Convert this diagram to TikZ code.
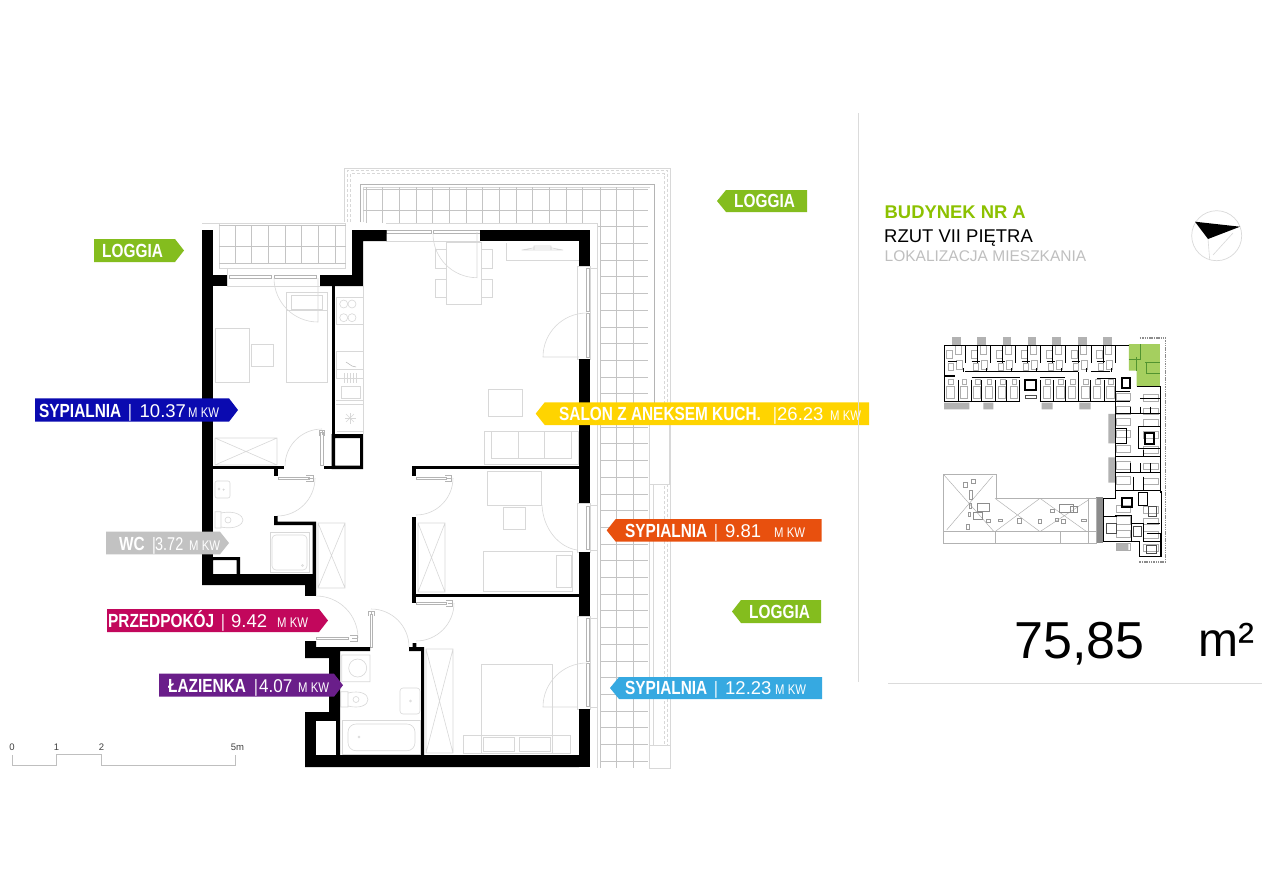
\documentclass[tikz,border=0pt]{standalone}
\usepackage{fontspec}
\setmainfont{Liberation Sans}
\newfontfamily\narrowfont[FakeStretch=0.81]{Liberation Sans}
\newfontfamily\plainfont{Liberation Sans}
\usetikzlibrary{calc}
\definecolor{cgreen}{HTML}{84BD1E}
\definecolor{cblue}{HTML}{0A0AB0}
\definecolor{cgray}{HTML}{C2C2C2}
\definecolor{cmag}{HTML}{C2075C}
\definecolor{cpurple}{HTML}{6A1E8A}
\definecolor{cyellow}{HTML}{FFD400}
\definecolor{corange}{HTML}{E8500E}
\definecolor{csky}{HTML}{36A9E1}
\definecolor{fline}{HTML}{D8D8D8}
\definecolor{tline}{HTML}{C4C4C4}
\definecolor{dline}{HTML}{B4B4B4}
\definecolor{kgreen}{HTML}{A5CF5F}
\definecolor{htitle}{HTML}{8CC100}
\tikzset{
  furn/.style={draw=fline,line width=0.6pt},
  tile/.style={draw=tline,line width=0.55pt},
  wall/.style={fill=black,draw=none},
  strip/.style={draw=fline,line width=0.6pt},
  dashy/.style={draw=fline,line width=0.6pt,dash pattern=on 3pt off 2pt},
  win/.style={draw=dline,line width=0.5pt,fill=white},
  labeltext/.style={anchor=base west,inner sep=0pt,text=white,font=\narrowfont},
  headtext/.style={anchor=base west,inner sep=0pt},
  scaletext/.style={anchor=base,inner sep=0pt,font=\fontsize{9.5}{10}\selectfont,text=black!75},
  kwall/.style={draw=black,line width=0.9pt},
  kthin/.style={draw=black!70,line width=0.45pt},
  kfaint/.style={draw=black!32,line width=0.45pt},
  kroof/.style={draw=black!30,line width=0.5pt},
  kbal/.style={fill=black!30,draw=none}
}
\newcommand{\tagright}[6]{\fill[#6] (#2,#4) -- (#3-9,#4) -- (#3,#4/2+#5/2) -- (#3-9,#5) -- (#2,#5) -- cycle;}
\newcommand{\tagleft}[6]{\fill[#6] (#3,#4) -- (#2+9,#4) -- (#2,#4/2+#5/2) -- (#2+9,#5) -- (#3,#5) -- cycle;}
\newcommand{\roomtext}[8]{\node[labeltext] (#1) at (#2,#3) {\fontsize{19}{19}\selectfont
  \rlap{\bfseries #4}\hspace*{#5pt}\rlap{\fontsize{18}{18}\selectfont|}\hspace*{-#5pt}\hspace*{#7pt}\rlap{\plainfont\fontsize{18.5}{18}\selectfont #6}\hspace*{-#7pt}\hspace*{#8pt}{\fontsize{14}{14}\selectfont M KW}};}
\begin{document}
\begin{tikzpicture}[x=1pt,y=-1pt]
\useasboundingbox[fill=white] (0,0) rectangle (1280,894);

% ---------- terrace outline
\draw[strip] (344,222) -- (344,168) -- (670,168) -- (670,768);
\draw[dashy] (347,222) -- (347,170.5) -- (667.5,170.5) -- (667.5,768);
\draw[dashy] (350.5,222) -- (350.5,173.5) -- (664.5,173.5) -- (664.5,768);
\draw[draw=dline,line width=0.6pt] (360,222) -- (360,184) -- (654,184) -- (654,414);
\draw[strip] (363,222) -- (363,187) -- (650,187);
\draw[strip] (649,484) -- (649,745) (653.5,484) -- (653.5,745);
\draw[strip,fill=white] (649,414) rectangle (669,484);
\draw[strip,fill=white] (649,745) rectangle (670,768);
% terrace tiles
\foreach \k in {0,...,13} \draw[tile] ({366+16.67*\k},187) -- ({366+16.67*\k},223);
\foreach \px in {600,616.7,633.3} \draw[tile] (\px,187) -- (\px,768);
\draw[tile] (363,189) -- (648,189) (363,210) -- (648,210) (597,226) -- (648,226);
\foreach \k in {0,...,31} \draw[tile] (600,{243.3+16.7*\k}) -- (648,{243.3+16.7*\k});
\draw[strip] (386,223) -- (597,223) -- (597,768);
% left loggia
\draw[strip] (202,223) -- (345.7,223) (219,223) rectangle (345.7,268);
\foreach \px in {235,251.7,268,285,301.7,318,335} \draw[tile] (\px,225) -- (\px,263);
\draw[tile] (219,225) -- (345.7,225) (219,246.7) -- (345.7,246.7) (219,263) -- (345.7,263);

% ---------- windows
\draw[strip] (227,268) -- (227,286.7) -- (320,286.7);
\draw[win] (229,275) rectangle (271,278) (274,275) rectangle (316,278);
\draw[strip] (386,241.7) -- (480,241.7);
\draw[win] (386,230.5) rectangle (431,233.5) (433,230.5) rectangle (480,233.5);
\draw[strip] (577,266) rectangle (590,359) (590,268) -- (597,268);
\draw[win] (586,268) rectangle (589,311) (586,313) rectangle (589,357);
\draw[strip] (577,503) rectangle (590,552) (590,505) -- (597,505) (590,550) -- (597,550);
\draw[win] (586,506) rectangle (589,549);
\draw[strip] (577,616) rectangle (590,709) (590,618) -- (597,618) (590,707) -- (597,707);
\draw[win] (586,618) rectangle (589,661) (586,663) rectangle (589,706);

% ---------- doors
\draw[furn] (318,278) -- (318,322) arc[start angle=90,end angle=180,radius=44];
\draw[furn] (477,232) -- (477,277.7) arc[start angle=90,end angle=180,radius=44];
\draw[furn] (579,357) -- (543,357) arc[start angle=180,end angle=270,radius=44];
\draw[furn] (578,707) -- (543,707) arc[start angle=180,end angle=270,radius=44];
\draw[furn] (542,505) .. controls (543,528) and (558,547) .. (577,550);
\draw[furn] (285,466) arc[start angle=180,end angle=270,radius=37];
\draw[win] (320.5,432) rectangle (323,465);
\draw[dline,line width=0.6pt] (319,436) -- (319,430) -- (324.5,430) -- (324.5,436) (322,430) -- (322,435);
\draw[furn] (315,478) arc[start angle=0,end angle=90,radius=38];
\draw[win] (278,477) rectangle (309,479.5);
\draw[dline,line width=0.6pt] (306,475) -- (313,475) -- (313,481) -- (306,481) (313,478) -- (308,478);
\draw[furn] (453,478) arc[start angle=0,end angle=90,radius=37];
\draw[win] (416,477) rectangle (446,479.5);
\draw[dline,line width=0.6pt] (445,475) -- (451,475) -- (451,481) -- (445,481) (451,478) -- (447,478);
\draw[furn] (454,603) arc[start angle=0,end angle=90,radius=38];
\draw[win] (416,602) rectangle (446,604.5);
\draw[dline,line width=0.6pt] (446,600) -- (452,600) -- (452,606) -- (446,606) (452,603) -- (448,603);
\draw[furn] (371,609) arc[start angle=270,end angle=360,radius=38];
\draw[win] (370,614) rectangle (372.5,647);
\draw[dline,line width=0.6pt] (368,616) -- (368,611) -- (374,611) -- (374,616) (371,611) -- (371,615);
\draw[furn] (316,596) arc[start angle=270,end angle=360,radius=42];
\draw[win] (316,637) rectangle (348,639.5);
\draw[dline,line width=0.6pt] (350,635) -- (357,635) -- (357,641) -- (350,641) (357,638) -- (352,638);

% ---------- bedroom 1 furniture
\draw[furn] (286.7,292.7) rectangle (327,382) (291,295) rectangle (322.7,309) (286.7,310) -- (327,310);
\draw[furn] (215,328) rectangle (249,382) (251,344) rectangle (273.3,366.7);
\draw[furn] (215,438) rectangle (277,465) (215,438) -- (277,465) (215,465) -- (277,438);
% kitchen
\draw[furn] (363.3,286) -- (363.3,434) (336,297) rectangle (363.3,324);
\foreach \cx/\cy in {343.7/304,352/304,343.7/317.7,352/317.7} \draw[furn] (\cx,\cy) circle[radius=4];
\draw[furn] (336,351) rectangle (363.3,378) (336,369) -- (363.3,369) (336,400) -- (363.3,400) (336,404) -- (363.3,404) (336.7,431.7) -- (363,431.7);
\draw[furn] (341,386) rectangle (360,398);
\foreach \px in {344,347,350,353,356} \draw[furn] (\px,373) -- (\px,383);
\draw[dline,line width=0.5pt] (346,362) -- (352,366) -- (356,367);
\foreach \a in {0,45,...,315} \draw[furn] (350,418) -- ++(\a:5.5);
% salon
\draw[furn] (446,242.7) rectangle (481.7,304);
\draw[furn] (435,249) rectangle (446,268) (435,279) rectangle (446,297) (481.7,249) rectangle (492.7,268) (481.7,279) rectangle (492.7,297);
\draw[furn] (506.7,243) -- (506.7,260) -- (579,260);
\draw[furn] (521.7,250) -- (533,248) -- (552,248) -- (563,250) -- cycle (534,246) rectangle (551,250);
\draw[furn] (488,389) rectangle (522.5,416);
\draw[furn] (484,431.7) rectangle (578,464) (491.7,431.7) -- (491.7,458) -- (571.7,458) -- (571.7,431.7) (518,431.7) -- (518,458) (544,431.7) -- (544,458);
% bedroom 2
\draw[furn] (487,471) rectangle (541.7,505) (503,507) rectangle (525.7,529.7);
\draw[furn] (483,551.7) rectangle (572.7,591.7) (556.7,555) rectangle (571,587.7);
\draw[furn] (418,523) rectangle (445,592) (418,523) -- (445,592) (418,592) -- (445,523);
% hall wardrobe
\draw[furn] (318,523) rectangle (345,588) (318,523) -- (345,588) (318,588) -- (345,523);
% WC
\draw[furn,rounded corners=2pt] (215,481) rectangle (230,498);
\draw[furn] (219,489) circle[radius=1] (222.5,489.5) -- (224.5,489.5) (223.5,488.5) -- (223.5,490.5);
\draw[furn] (215,511.7) rectangle (221,528) (221,513) .. controls (236,510) and (243,516) .. (243,520) .. controls (243,524) and (236,530) .. (221,527);
\draw[furn] (228,520) circle[radius=3];
\draw[furn] (270,532.7) rectangle (309,572);
\draw[furn,rounded corners=4pt] (272,535) rectangle (307,570);
\draw[furn] (302.5,565.5) circle[radius=1];
% bathroom
\draw[furn] (341.7,655) rectangle (370,681.7) (357.7,668) circle[radius=9];
\draw[furn] (340.7,691.7) rectangle (348,707) (348,693) .. controls (360,690) and (368,694) .. (368,699.5) .. controls (368,705) and (360,709) .. (348,706);
\draw[furn] (356,699.5) circle[radius=3];
\draw[furn,rounded corners=3pt] (400,688) rectangle (420,714);
\draw[furn] (410.5,701) circle[radius=1];
\draw[furn] (342.7,720.7) rectangle (420,754);
\draw[furn,rounded corners=8pt] (348,724) rectangle (415,750.7);
\draw[furn] (359,737) circle[radius=1];
% bedroom 3
\draw[furn] (426,649) rectangle (453,753) (426,649) -- (453,753) (426,753) -- (453,649);
\draw[furn] (481.7,664) rectangle (552,753) (463,735.7) rectangle (570,753) (483,737) rectangle (514,751.7) (519,737) rectangle (550.7,751.7);

% ---------- walls
\fill[wall] (202,230) rectangle (213,585);
\fill[wall] (213,275) rectangle (227,286);
\fill[wall] (320,275) -- (352,275) -- (352,230) -- (386.7,230) -- (386.7,241) -- (363,241) -- (363,286) -- (320,286) -- cycle;
\fill[wall] (331.5,286) rectangle (335,434);
\fill[wall] (480,230) rectangle (590,241);
\fill[wall] (579,241) rectangle (590,266);
\fill[wall] (579,359) rectangle (590,503);
\fill[wall] (579,552) rectangle (590,616);
\fill[wall] (579,709) rectangle (590,767);
\fill[wall,even odd rule] (331.5,434) rectangle (363,469) (335,438) rectangle (360,465.7);
\fill[wall] (324,465.7) rectangle (331.5,469);
\fill[wall] (213,465.7) rectangle (284,469);
\fill[wall] (274,469) rectangle (277.7,476);
\fill[wall] (274,516) -- (277.7,516) -- (277.7,521.7) -- (316,521.7) -- (316,595) -- (305,595) -- (305,585) -- (202,585) -- (202,574) -- (312.7,574) -- (312.7,525) -- (274,525) -- cycle;
\fill[wall,even odd rule] (213,557) rectangle (240,574) (213,560) rectangle (236.7,574);
\fill[wall] (412,465.7) rectangle (579,469.3);
\fill[wall] (412,469) rectangle (415.7,476);
\fill[wall] (412,516.7) rectangle (415.7,597);
\fill[wall] (412,593.5) rectangle (579,597);
\fill[wall] (412,597) rectangle (415.7,603);
\fill[wall] (305,641) -- (316,641) -- (316,647) -- (370,647) -- (370,651) -- (340,651) -- (340,755) -- (421,755) -- (421,651) -- (409,651) -- (409,647) -- (412.7,647) -- (412.7,643) -- (416.4,643) -- (416.4,647) -- (424,647) -- (424,755) -- (579,755) -- (579,767) -- (305,767) -- (305,712) -- (329,712) -- (329,658) -- (305,658) -- cycle;
\fill[white] (316,721) rectangle (336,755);
\fill[wall] (305,590) rectangle (316,596);

% ---------- room tags
\tagright{lg1}{94}{184}{239}{262}{cgreen}
\node[labeltext,font=\narrowfont\bfseries\fontsize{19}{19}\selectfont] (loggiaA) at (102,257.5) {LOGGIA};
\tagleft{lg2}{717}{807}{190}{212}{cgreen}
\node[labeltext,font=\narrowfont\bfseries\fontsize{19}{19}\selectfont] (loggiaB) at (734,207.5) {LOGGIA};
\tagleft{lg3}{732}{821}{600}{623}{cgreen}
\node[labeltext,font=\narrowfont\bfseries\fontsize{19}{19}\selectfont] (loggiaC) at (749,618.5) {LOGGIA};

\tagright{t1}{35}{238}{398.3}{421.7}{cblue}
\roomtext{room1}{39}{417}{SYPIALNIA}{89}{10.37}{100.5}{149}
\tagright{t2}{106}{229}{531.7}{554.3}{cgray}
\roomtext{room2}{119}{550}{WC}{33}{\scalebox{.78}[1]{3.72}}{36}{70}
\tagright{t3}{107}{328}{609}{632}{cmag}
\roomtext{room3}{108}{627.5}{PRZEDPOKÓJ}{113}{9.42}{123}{169}
\tagright{t4}{159}{343}{673.7}{696.7}{cpurple}
\roomtext{room4}{168}{692}{ŁAZIENKA}{86}{\scalebox{.92}[1]{4.07}}{91}{130}
\tagleft{t5}{535.7}{869}{402.3}{425}{cyellow}
\roomtext{room5}{559}{420.5}{SALON Z ANEKSEM KUCH.}{214}{26.23}{218}{271}
\tagleft{t6}{606.7}{821.7}{519}{541.7}{corange}
\roomtext{room6}{625}{537}{SYPIALNIA}{89}{9.81}{100}{149}
\tagleft{t7}{610}{822}{677}{699}{csky}
\roomtext{room7}{625}{694.5}{SYPIALNIA}{89}{12.23}{100}{150}

% ---------- scale bar
\draw[draw=black!25,line width=0.7pt] (12,755) -- (12,765.6) -- (56.5,765.6) -- (56.5,754.6) -- (101,754.6) -- (101,765.6) -- (235,765.6) -- (235,755);
\node[scaletext] (s0) at (12,750) {0};
\node[scaletext] (s1) at (56.5,750) {1};
\node[scaletext] (s2) at (101.5,750) {2};
\node[scaletext] (s5) at (237.5,750) {5m};

% ---------- dividers
\draw[draw=black!14,line width=0.8pt] (858,113) -- (858,682);
\draw[draw=black!14,line width=0.8pt] (888,683) -- (1262,683);

% ---------- header
\node[headtext,font=\bfseries\fontsize{18.4}{18}\selectfont,text=htitle] (hA) at (884.5,218) {BUDYNEK NR A};
\node[headtext,font=\fontsize{18.45}{18}\selectfont] (hB) at (884,242.5) {RZUT VII PIĘTRA};
\node[headtext,font=\fontsize{15.5}{15}\selectfont,text=black!25] (hC) at (884.5,261.5) {LOKALIZACJA MIESZKANIA};
\node[headtext,font=\fontsize{52}{52}\selectfont] (area) at (1014,658) {75,85};
\node[headtext,font=\fontsize{48}{48}\selectfont] (unit) at (1198,656.5) {m²};

% ---------- compass
\draw[draw=black!15,line width=0.7pt] (1216.7,235.7) circle[radius=25];
\draw[draw=black!15,line width=0.6pt] (1208,239) -- (1209.7,260) (1213,255) -- (1233,233);
\fill[black] (1195,221.7) -- (1240,226.7) -- (1208,239) -- cycle;

% ---------- key plan (coordinates in 3x crop units)
\begin{scope}[shift={(930,330)},x=0.3333pt,y=-0.3333pt]
  \foreach \bx in {67,142,218,293,367,445,520} \fill[kbal] (\bx,20) rectangle (\bx+26,45);
  \fill[kbal] (42,218) rectangle (118,238) (160,218) rectangle (190,238) (335,218) rectangle (368,238) (448,218) rectangle (482,238);
  \fill[kbal] (535,252) rectangle (555,340) (535,382) rectangle (555,458) (560,642) rectangle (595,660);
  \fill[black!45] (498,502) rectangle (520,640);
  % east hatched strip
  \draw[draw=black!45,line width=1.6pt,dash pattern=on 1.5pt off 0.8pt] (630,24) -- (706,24) -- (706,696) -- (628,696);
  % green flat
  \fill[kgreen] (597,42) -- (690,42) -- (690,168) -- (620,168) -- (620,122) -- (597,122) -- cycle;
  \draw[draw=green!35!black!50!kgreen,line width=0.5pt] (632,42) -- (632,88) (597,88) -- (632,88) (645,98) -- (690,98) (648,98) -- (648,130) -- (690,130) (620,122) -- (620,80);
  % faint furniture
  \foreach \ux in {50,125,200,275,350,425,500}{
    \draw[kfaint] (\ux,60) rectangle (\ux+18,85) (\ux+25,45) rectangle (\ux+45,72) (\ux+30,90) rectangle (\ux+48,118) (\ux+4,100) rectangle (\ux+20,122);
  }
  \foreach \ux in {50,90,130,165,205,240,340,380,415,455,490,530}{
    \draw[kfaint] (\ux,170) rectangle (\ux+22,205) (\ux+6,148) rectangle (\ux+20,162);
  }
  \foreach \uy in {190,230,265,300,345,395,440,525,560,600,640}{
    \draw[kfaint] (560,\uy) rectangle (600,\uy+22) (640,\uy+4) rectangle (685,\uy+24);
  }
  % north wing
  \draw[kwall] (42,215) -- (42,47) -- (597,47) (42,215) -- (270,215) (330,215) -- (445,215) (445,215) -- (555,215);
  \foreach \wx in {105,142,180,218,255,293,330,367,405,445,483,520,557} \draw[kwall] (\wx,47) -- (\wx,100);
  \foreach \wx in {85,125,155,195,230,268,330,370,405,445,480,522} \draw[kwall] (\wx,150) -- (\wx,215);
  \draw[kwall,line width=1.4pt] (42,138) -- (75,138) (105,125) -- (445,125) (125,143) -- (270,143) (330,143) -- (405,143) (445,125) -- (445,215) (483,125) -- (540,125) (500,145) -- (557,145);
  \foreach \wx in {55,125,200,275,350,425,500}{\draw[kwall] (\wx,95) -- (\wx+25,95) (\wx+45,115) -- (\wx+45,125);}
  \draw[kwall,line width=1.8pt] (285,150) rectangle (318,180);
  \draw[kwall,line width=1.8pt] (575,145) rectangle (600,175);
  \draw[kthin] (285,195) rectangle (318,205);
  % east wing
  \draw[kwall] (557,145) -- (557,250) (557,185) -- (600,185) (557,215) -- (600,215) (620,170) -- (690,170) -- (690,488);
  \draw[kwall] (555,250) -- (690,250) (555,250) -- (555,480) (555,295) -- (590,295) -- (590,340) -- (555,340) (625,290) -- (690,290) (625,290) -- (625,355) -- (690,355);
  \draw[kwall] (555,378) -- (690,378) (555,427) -- (690,427) (555,482) -- (690,482);
  \draw[kwall,line width=1.8pt] (645,310) rectangle (672,342);
  \foreach \wx in {600,630,660} \draw[kwall] (\wx,230) -- (\wx,250) (\wx,400) -- (\wx,427);
  \draw[kwall] (630,205) -- (690,205) (640,360) -- (640,378) (610,440) -- (610,482) (640,440) -- (640,482);
  % south-east block
  \draw[kwall] (520,505) -- (555,505) -- (555,482) (520,505) -- (520,635) -- (628,635) -- (628,680) -- (695,680) -- (695,482);
  \draw[kwall,line width=1.8pt] (575,505) rectangle (605,530);
  \draw[kwall] (625,487) rectangle (652,525);
  \draw[kwall] (555,555) -- (605,555) -- (605,635) (520,560) -- (560,560) (605,580) -- (640,580) -- (640,635) (650,580) -- (690,580) (650,610) -- (690,610) -- (690,680) (640,635) -- (690,635);
  \draw[kthin] (530,580) rectangle (560,610) (650,645) rectangle (680,670) (655,530) rectangle (680,560) (610,590) rectangle (635,620);
  % roof
  \draw[kroof] (40,433) -- (200,433) -- (200,505) -- (498,505) -- (498,640) -- (40,640) -- cycle;
  \draw[kroof] (40,605) -- (498,605) (195,605) -- (195,640) (392,605) -- (392,640) (475,505) -- (475,640);
  \draw[kfaint] (42,435) -- (192,605) (188,438) -- (50,600) (195,505) -- (330,605) (330,505) -- (195,605) (330,505) -- (470,605) (475,510) -- (330,605);
  \draw[draw=black!45,line width=0.8pt] (143,520) rectangle (177,545) (130,547) rectangle (158,568) (388,522) rectangle (430,548) (420,528) rectangle (442,548);
  \foreach \ax/\ay/\bx/\by in {100/458/112/472,125/447/135/460,117/482/127/508,118/520/125/535,115/548/122/560,168/567/180/577,108/582/118/598,205/568/218/575,262/565/275/580,325/568/335/580,362/538/372/548,375/565/385/575,395/568/405/580,455/568/468/575}
    \draw[draw=black!40,line width=0.5pt] (\ax,\ay) rectangle (\bx,\by);
\end{scope}
\end{tikzpicture}
\end{document}
